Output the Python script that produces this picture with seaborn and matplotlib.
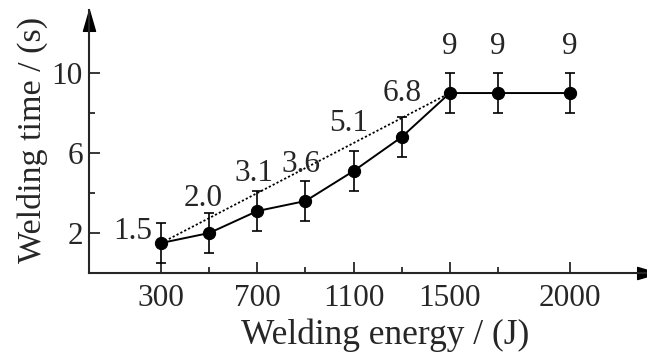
import matplotlib
matplotlib.use('Agg')
import matplotlib.pyplot as plt
import seaborn as sns

# data
energy = [300, 500, 700, 900, 1100, 1300, 1500, 1700, 2000]
weld_time = [1.5, 2.0, 3.1, 3.6, 5.1, 6.8, 9, 9, 9]
time_err = [1, 1, 1, 1, 1, 1, 1, 1, 1]
value_labels = ['1.5', '2.0', '3.1', '3.6', '5.1', '6.8', '9', '9', '9']
xtick_major = [300, 700, 1100, 1500, 2000]
xtick_minor = [500, 900, 1300, 1700]
ytick_major = [2, 6, 10]
ytick_minor = [4, 8]

# label offsets (points) relative to each data point
label_offsets = [(-20.5, 8.5), (-4.5, 25), (-2.7, 27), (-3, 26), (-3.6, 34), (0, 31), (0, 33.5), (0, 33.5), (0, 33.5)]

sns.set_style('ticks')
plt.rcParams['font.family'] = ['Liberation Serif', 'DejaVu Serif']

fig = plt.figure(figsize=(6.47, 3.60), dpi=100)
ax = fig.add_axes([0.1376, 0.2417, 1.0 - 0.1376, 0.972 - 0.2417])

# dotted reference line from first point to the plateau start
sns.lineplot(x=[energy[0], energy[6]], y=[weld_time[0], weld_time[6]], ax=ax,
             color='black', linestyle=(0, (1.2, 1.2)), linewidth=1.3)

ax.errorbar(energy, weld_time, yerr=time_err, fmt='none', ecolor='black',
            elinewidth=1.2, capsize=3.3, capthick=1.2)
sns.lineplot(x=energy, y=weld_time, ax=ax, color='black', linewidth=1.4,
             marker='o', markersize=8.8, markeredgecolor='black')

for xv, yv, txt, off in zip(energy, weld_time, value_labels, label_offsets):
    ax.annotate(txt, (xv, yv), xytext=off, textcoords='offset points',
                ha='center', va='center', fontsize=22.5)

ax.set_xlim(0, 2320)
ax.set_ylim(0, 13.15)
ax.set_xticks(xtick_major)
ax.set_xticks(xtick_minor, minor=True)
ax.set_yticks(ytick_major)
ax.set_yticks(ytick_minor, minor=True)
ax.tick_params(axis='both', which='both', direction='in', width=1.3, labelsize=22.5)
ax.tick_params(axis='both', which='major', length=8)
ax.tick_params(axis='both', which='minor', length=4.5)
ax.tick_params(axis='x', which='major', pad=8)
ax.tick_params(axis='y', which='major', pad=4.5)

for side in ['top', 'right']:
    ax.spines[side].set_visible(False)
for side in ['left', 'bottom']:
    ax.spines[side].set_linewidth(1.5)

# arrow heads on the axes (tip at the marker origin)
up_head = [(0, 0), (-0.29, -1), (0.29, -1), (0, 0)]
right_head = [(0, 0), (-1, 0.29), (-1, -0.29), (0, 0)]
ax.plot(0, 1, marker=up_head, color='black', markersize=30, transform=ax.transAxes, clip_on=False)
ax.plot(1.02, 0, marker=right_head, color='black', markersize=30, transform=ax.transAxes, clip_on=False)

ax.set_xlabel('Welding energy / (J)', fontsize=25.5)
ax.set_ylabel('Welding time / (s)', fontsize=24.5)
ax.xaxis.set_label_coords(0.530, -0.175)
ax.yaxis.set_label_coords(-0.0735, 0.506)

fig.savefig('out.png', dpi=100)
